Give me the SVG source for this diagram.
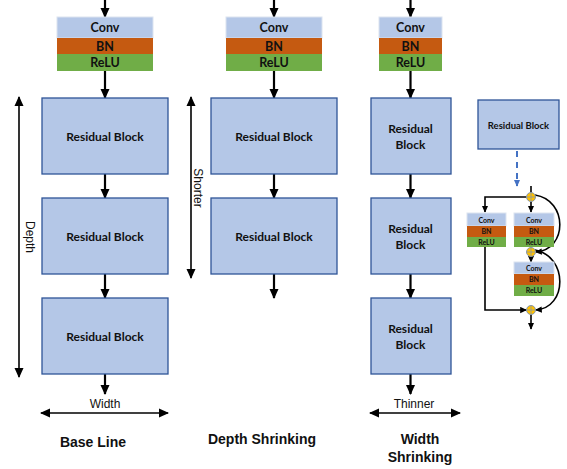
<svg xmlns="http://www.w3.org/2000/svg" width="567" height="469" viewBox="0 0 567 469">
<defs>
<marker id="ah" markerUnits="userSpaceOnUse" markerWidth="10" markerHeight="10" viewBox="0 0 10 10" refX="9" refY="5" orient="auto-start-reverse">
<path d="M0,0.5 L10,5 L0,9.5 Z" fill="#000"/>
</marker>
<marker id="ahs" markerUnits="userSpaceOnUse" markerWidth="7" markerHeight="7" viewBox="0 0 10 10" refX="9" refY="5" orient="auto-start-reverse">
<path d="M0,0.5 L10,5 L0,9.5 Z" fill="#000"/>
</marker>
<marker id="ahb" markerUnits="userSpaceOnUse" markerWidth="7" markerHeight="7" viewBox="0 0 10 10" refX="9" refY="5" orient="auto">
<path d="M0,0.5 L10,5 L0,9.5 Z" fill="#4472c4"/>
</marker>
</defs>
<style>
.rb{fill:#b4c7e7;stroke:#2f5597;stroke-width:1.3}
.cv{fill:#b4c7e7;stroke:#dbe3f0;stroke-width:1}
.bn{fill:#c55a11}
.re{fill:#70ad47}
.bt{font-family:Lato,"Liberation Sans",sans-serif;font-weight:bold;fill:#111;text-anchor:middle}
.lb{font-family:"Liberation Sans",Arial,sans-serif;fill:#111;text-anchor:middle}
.ti{font-family:"Liberation Sans",Arial,sans-serif;font-weight:bold;fill:#111;text-anchor:middle;font-size:14px}
.ar{stroke:#000;stroke-width:2.2;fill:none;marker-end:url(#ah)}
.da{stroke:#000;stroke-width:1.6;fill:none;marker-start:url(#ah);marker-end:url(#ah)}
.sa{stroke:#000;stroke-width:1.6;fill:none;marker-end:url(#ahs)}
.sum{fill:#ffc000;stroke:#8497b0;stroke-width:1}
.x{stroke:#8497b0;stroke-width:0.8}
</style>

<g id="connectors">
<line class="ar" x1="105" y1="0" x2="105" y2="17"/>
<line class="ar" x1="105" y1="71" x2="105" y2="98"/>
<line class="ar" x1="105" y1="174" x2="105" y2="198"/>
<line class="ar" x1="105" y1="274" x2="105" y2="298"/>
<line class="ar" x1="105" y1="374" x2="105" y2="394"/>
<line class="ar" x1="274" y1="0" x2="274" y2="17"/>
<line class="ar" x1="274" y1="71" x2="274" y2="98"/>
<line class="ar" x1="274" y1="174" x2="274" y2="198"/>
<line class="ar" x1="274" y1="274" x2="274" y2="298"/>
<line class="ar" x1="410.5" y1="0" x2="410.5" y2="17"/>
<line class="ar" x1="410.5" y1="71" x2="410.5" y2="98"/>
<line class="ar" x1="410.5" y1="174" x2="410.5" y2="198"/>
<line class="ar" x1="410.5" y1="274" x2="410.5" y2="298"/>
<line class="ar" x1="410.5" y1="374" x2="410.5" y2="394"/>
<line class="da" x1="19" y1="97" x2="19" y2="377"/>
<line class="da" x1="191" y1="97" x2="191" y2="278"/>
<line class="da" x1="41" y1="413" x2="168" y2="413"/>
<line class="da" x1="370" y1="413" x2="460" y2="413"/>
<line x1="517" y1="151" x2="517" y2="186" stroke="#4472c4" stroke-width="2" stroke-dasharray="6,5" marker-end="url(#ahb)"/>
<line x1="531" y1="186" x2="531" y2="193" stroke="#000" stroke-width="1.6"/>
<polyline class="sa" points="526.5,197 485,197 485,212"/>
<line class="sa" x1="531" y1="201.5" x2="531" y2="212"/>
<path class="sa" d="M535,195 C568,200 568,250 535.5,252"/>
<line class="sa" x1="531" y1="256.5" x2="531" y2="262"/>
<path class="sa" d="M535,250 C568,256 568,308 535.5,310"/>
<polyline class="sa" points="485,247 485,310 526.5,310"/>
<line class="sa" x1="531" y1="314.5" x2="531" y2="329"/>
</g>

<g id="stem1">
<rect class="cv" x="57" y="17" width="96" height="21"/>
<rect class="bn" x="57" y="38" width="96" height="16"/>
<rect class="re" x="57" y="54" width="96" height="17"/>
<text class="bt" x="105" y="32" font-size="12.5">Conv</text>
<text class="bt" x="105" y="50.5" font-size="12.5">BN</text>
<text class="bt" x="105" y="67" font-size="12.5">ReLU</text>
</g>
<g id="base-rb1"><rect class="rb" x="42" y="98" width="126" height="76"/><text class="bt" x="105" y="141" font-size="12">Residual Block</text></g>
<g id="base-rb2"><rect class="rb" x="42" y="198" width="126" height="76"/><text class="bt" x="105" y="241" font-size="12">Residual Block</text></g>
<g id="base-rb3"><rect class="rb" x="42" y="298" width="126" height="76"/><text class="bt" x="105" y="341" font-size="12">Residual Block</text></g>

<g id="stem2">
<rect class="cv" x="226" y="17" width="96" height="21"/>
<rect class="bn" x="226" y="38" width="96" height="16"/>
<rect class="re" x="226" y="54" width="96" height="17"/>
<text class="bt" x="274" y="32" font-size="12.5">Conv</text>
<text class="bt" x="274" y="50.5" font-size="12.5">BN</text>
<text class="bt" x="274" y="67" font-size="12.5">ReLU</text>
</g>
<g id="depth-rb1"><rect class="rb" x="211" y="98" width="126" height="76"/><text class="bt" x="274" y="141" font-size="12">Residual Block</text></g>
<g id="depth-rb2"><rect class="rb" x="211" y="198" width="126" height="76"/><text class="bt" x="274" y="241" font-size="12">Residual Block</text></g>

<g id="stem3">
<rect class="cv" x="379" y="17" width="63" height="21"/>
<rect class="bn" x="379" y="38" width="63" height="16"/>
<rect class="re" x="379" y="54" width="63" height="17"/>
<text class="bt" x="410.5" y="32" font-size="12.5">Conv</text>
<text class="bt" x="410.5" y="50.5" font-size="12.5">BN</text>
<text class="bt" x="410.5" y="67" font-size="12.5">ReLU</text>
</g>
<g id="width-rb1"><rect class="rb" x="371" y="98" width="80" height="76"/><text class="bt" x="410.5" y="133" font-size="12">Residual</text><text class="bt" x="410.5" y="149" font-size="12">Block</text></g>
<g id="width-rb2"><rect class="rb" x="371" y="198" width="80" height="76"/><text class="bt" x="410.5" y="233" font-size="12">Residual</text><text class="bt" x="410.5" y="249" font-size="12">Block</text></g>
<g id="width-rb3"><rect class="rb" x="371" y="298" width="80" height="76"/><text class="bt" x="410.5" y="333" font-size="12">Residual</text><text class="bt" x="410.5" y="349" font-size="12">Block</text></g>

<g id="detail-rb"><rect class="rb" x="478" y="100" width="81" height="49"/><text class="bt" x="518.5" y="129" font-size="9.5">Residual Block</text></g>

<g id="detail-left">
<rect class="cv" x="467" y="213" width="39" height="13"/>
<rect class="bn" x="467" y="226" width="39" height="11"/>
<rect class="re" x="467" y="237" width="39" height="10"/>
<text class="bt" x="486.5" y="223" font-size="7">Conv</text>
<text class="bt" x="486.5" y="234" font-size="7">BN</text>
<text class="bt" x="486.5" y="244.5" font-size="7">ReLU</text>
</g>
<g id="detail-mid1">
<rect class="cv" x="514" y="213" width="40" height="13"/>
<rect class="bn" x="514" y="226" width="40" height="11"/>
<rect class="re" x="514" y="237" width="40" height="10"/>
<text class="bt" x="534" y="223" font-size="7">Conv</text>
<text class="bt" x="534" y="234" font-size="7">BN</text>
<text class="bt" x="534" y="244.5" font-size="7">ReLU</text>
</g>
<g id="detail-mid2">
<rect class="cv" x="514" y="262" width="40" height="12"/>
<rect class="bn" x="514" y="274" width="40" height="11"/>
<rect class="re" x="514" y="285" width="40" height="11"/>
<text class="bt" x="534" y="271" font-size="7">Conv</text>
<text class="bt" x="534" y="282" font-size="7">BN</text>
<text class="bt" x="534" y="293" font-size="7">ReLU</text>
</g>
<g id="sum1"><circle class="sum" cx="531" cy="197" r="4.5"/><line class="x" x1="526.5" y1="197" x2="535.5" y2="197"/><line class="x" x1="531" y1="192.5" x2="531" y2="201.5"/></g>
<g id="sum2"><circle class="sum" cx="531" cy="252" r="4.5"/><line class="x" x1="526.5" y1="252" x2="535.5" y2="252"/><line class="x" x1="531" y1="247.5" x2="531" y2="256.5"/></g>
<g id="sum3"><circle class="sum" cx="531" cy="310" r="4.5"/><line class="x" x1="526.5" y1="310" x2="535.5" y2="310"/><line class="x" x1="531" y1="305.5" x2="531" y2="314.5"/></g>

<g id="labels">
<text class="lb" font-size="12" transform="translate(26,237) rotate(90)">Depth</text>
<text class="lb" font-size="12" transform="translate(194,188) rotate(90)">Shorter</text>
<text class="lb" x="105" y="408" font-size="12">Width</text>
<text class="lb" x="414" y="408" font-size="12">Thinner</text>
<text class="ti" x="93" y="447">Base Line</text>
<text class="ti" x="262" y="444">Depth Shrinking</text>
<text class="ti" x="420" y="444">Width</text>
<text class="ti" x="420" y="462">Shrinking</text>
</g>
</svg>
